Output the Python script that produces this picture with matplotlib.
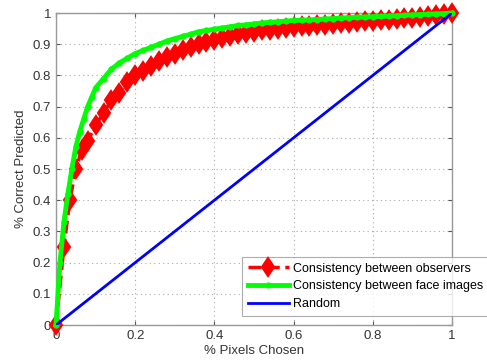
"""Recreate the consistency ROC-style chart."""

import matplotlib
matplotlib.use("Agg")
import matplotlib.pyplot as plt

# Consistency between observers (red diamonds)
obs_x = [0.00, 0.02, 0.035, 0.05, 0.065, 0.08, 0.10, 0.12, 0.14, 0.16, 0.18, 0.20,
         0.22, 0.24, 0.26, 0.28, 0.30, 0.32, 0.34, 0.36, 0.38, 0.40, 0.42, 0.44,
         0.46, 0.48, 0.50, 0.52, 0.54, 0.56, 0.58, 0.60, 0.62, 0.64, 0.66, 0.68,
         0.70, 0.72, 0.74, 0.76, 0.78, 0.80, 0.82, 0.84, 0.86, 0.88, 0.90, 0.92,
         0.94, 0.96, 0.98, 1.00]
obs_y = [0.00, 0.25, 0.40, 0.50, 0.56, 0.59, 0.64, 0.68, 0.72, 0.745, 0.78, 0.80,
         0.815, 0.83, 0.845, 0.86, 0.87, 0.88, 0.89, 0.90, 0.907, 0.914, 0.92, 0.927,
         0.933, 0.937, 0.94, 0.944, 0.947, 0.95, 0.953, 0.955, 0.957, 0.959, 0.961, 0.963,
         0.965, 0.967, 0.969, 0.971, 0.973, 0.975, 0.977, 0.979, 0.981, 0.983, 0.985, 0.988,
         0.991, 0.994, 0.997, 1.00]

# Consistency between face images (green)
face_x = [0.00, 0.01, 0.02, 0.03, 0.04, 0.05, 0.06, 0.07, 0.08, 0.09, 0.10, 0.12,
          0.14, 0.16, 0.18, 0.20, 0.22, 0.24, 0.26, 0.28, 0.30, 0.32, 0.34, 0.36,
          0.38, 0.40, 0.42, 0.44, 0.46, 0.48, 0.50, 0.52, 0.54, 0.56, 0.58, 0.60,
          0.62, 0.64, 0.66, 0.68, 0.70, 0.72, 0.74, 0.76, 0.78, 0.80, 0.82, 0.84,
          0.86, 0.88, 0.90, 0.92, 0.94, 0.96, 0.98, 1.00]
face_y = [0.00, 0.20, 0.33, 0.42, 0.50, 0.57, 0.62, 0.66, 0.70, 0.73, 0.76, 0.79,
          0.82, 0.84, 0.855, 0.87, 0.88, 0.89, 0.90, 0.91, 0.918, 0.925, 0.932, 0.94,
          0.944, 0.948, 0.952, 0.956, 0.96, 0.962, 0.965, 0.968, 0.97, 0.972, 0.974, 0.976,
          0.977, 0.978, 0.979, 0.981, 0.982, 0.984, 0.985, 0.986, 0.987, 0.988, 0.989, 0.990,
          0.991, 0.992, 0.994, 0.995, 0.996, 0.997, 0.998, 1.00]

rand_x = [0.0, 1.0]
rand_y = [0.0, 1.0]

x_ticks = [0, 0.2, 0.4, 0.6, 0.8, 1]
x_labels = ["0", "0.2", "0.4", "0.6", "0.8", "1"]
y_ticks = [0, 0.1, 0.2, 0.3, 0.4, 0.5, 0.6, 0.7, 0.8, 0.9, 1]
y_labels = ["0", "0.1", "0.2", "0.3", "0.4", "0.5", "0.6", "0.7", "0.8", "0.9", "1"]

plt.rcParams["font.family"] = ["Liberation Sans", "DejaVu Sans"]

fig = plt.figure(figsize=(4.87, 3.62), dpi=100)
ax = fig.add_axes([56 / 487, 1 - 325 / 362, 396 / 487, 312 / 362])

ax.plot(obs_x, obs_y, color="#ff0000", ls="--", lw=2.5, marker="d",
        markersize=9.5, markeredgewidth=1.5, markeredgecolor="#ff0000",
        markerfacecolor="#ff0000", label="Consistency between observers",
        clip_on=False, zorder=3)
ax.plot(face_x, face_y, color="#00ff00", ls="-", lw=3.5, marker="o",
        markersize=3.5, markeredgecolor="#00ff00", markerfacecolor="#00ff00",
        label="Consistency between face images", clip_on=False, zorder=4)
ax.plot(rand_x, rand_y, color="#0000ff", lw=2, label="Random", zorder=5)

ax.set_xlim(0, 1)
ax.set_ylim(0, 1)
ax.set_xticks(x_ticks)
ax.set_xticklabels(x_labels)
ax.set_yticks(y_ticks)
ax.set_yticklabels(y_labels)
ax.tick_params(direction="in", length=3, top=True, right=True, labelsize=9.5,
               colors="#555555", labelcolor="#333333")
ax.grid(True, color="#aaaaaa", ls=(0, (1, 3)), lw=0.8)
for spine in ax.spines.values():
    spine.set_color("#999999")
    spine.set_linewidth(1.0)

ax.set_xlabel("% Pixels Chosen", fontsize=9.5, color="#333333", labelpad=2)
ax.set_ylabel("% Correct Predicted", fontsize=9.5, color="#333333", labelpad=4)

leg = ax.legend(loc="upper left", bbox_to_anchor=(242 / 487, 1 - 257 / 362),
                bbox_transform=fig.transFigure, fontsize=9, frameon=True,
                fancybox=False, handlelength=3.3, borderpad=0.45, labelspacing=0.45,
                handletextpad=0.3, borderaxespad=0)
leg.get_frame().set_edgecolor("#999999")
leg.get_frame().set_linewidth(0.8)

fig.savefig("out.png", dpi=100)
